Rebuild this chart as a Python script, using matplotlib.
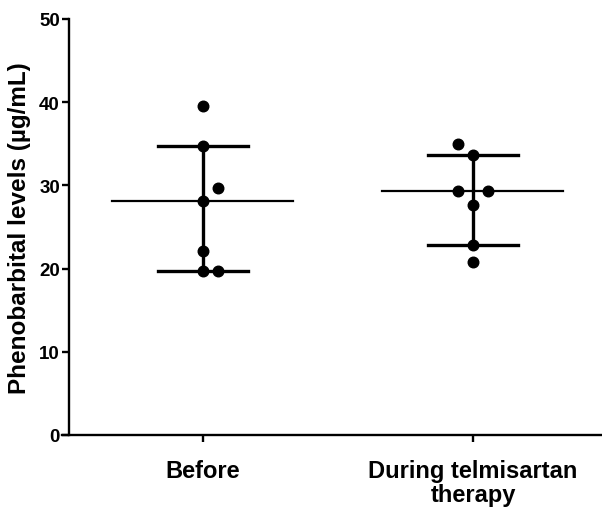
import numpy as np
import matplotlib
matplotlib.use('Agg')
import matplotlib.pyplot as plt

plt.rcParams['font.family'] = ['Liberation Sans', 'DejaVu Sans']
plt.rcParams['font.weight'] = 'bold'

# data
categories = ['Before', 'During telmisartan\ntherapy']
before = [39.5, 34.7, 29.65, 28.1, 22.15, 19.75, 19.75]
during = [34.97, 33.7, 29.33, 29.33, 27.64, 22.88, 20.83]
# horizontal scatter of overlapping dots (in dot steps)
jitter_before = [0, 0, 1, 0, 0, 0, 1]
jitter_during = [-1, 0, -1, 1, 0, 0, 0]
yticks = [0, 10, 20, 30, 40, 50]

groups = [before, during]
jitters = [jitter_before, jitter_during]

fig = plt.figure(figsize=(6.02, 5.10), dpi=100)
ax = fig.add_axes([62 / 602, 0.1451, 1.0 - 62 / 602, 0.8157])

step = 0.054
med_half = 0.335
cap_half = 0.168

for i, (vals, jit) in enumerate(zip(groups, jitters)):
    x0 = i + 1
    v = np.array(vals)
    med = np.median(v)
    q1, q3 = np.percentile(v, [25, 75], method='weibull')
    # median line
    ax.plot([x0 - med_half, x0 + med_half], [med, med], color='black', lw=1.6, zorder=2)
    # interquartile range
    ax.plot([x0, x0], [q1, q3], color='black', lw=2.4, zorder=2)
    for q in (q1, q3):
        ax.plot([x0 - cap_half, x0 + cap_half], [q, q], color='black', lw=2.4, zorder=2)
    xs = x0 + np.array(jit) * step
    ax.plot(xs, v, 'o', color='black', ms=7.6, zorder=3, clip_on=False)

ax.set_xlim(0.478, 2.478)
ax.set_ylim(0, 50)
ax.spines['left'].set_position(('data', 0.5037))
ax.spines['top'].set_visible(False)
ax.spines['right'].set_visible(False)
for s in ('left', 'bottom'):
    ax.spines[s].set_linewidth(1.7)

ax.set_yticks(yticks)
ax.set_xticks([1, 2])
ax.set_xticklabels(categories, fontsize=17, fontweight='bold', linespacing=1.05)
ax.tick_params(axis='y', length=5, width=1.7, labelsize=13.5, pad=1.5)
ax.tick_params(axis='x', length=5, width=1.7, pad=12)
for lab in ax.get_yticklabels():
    lab.set_fontweight('bold')

ax.set_ylabel('Phenobarbital levels (µg/mL)', fontsize=17.5, fontweight='bold', labelpad=6)

fig.savefig('out.png', dpi=100)
